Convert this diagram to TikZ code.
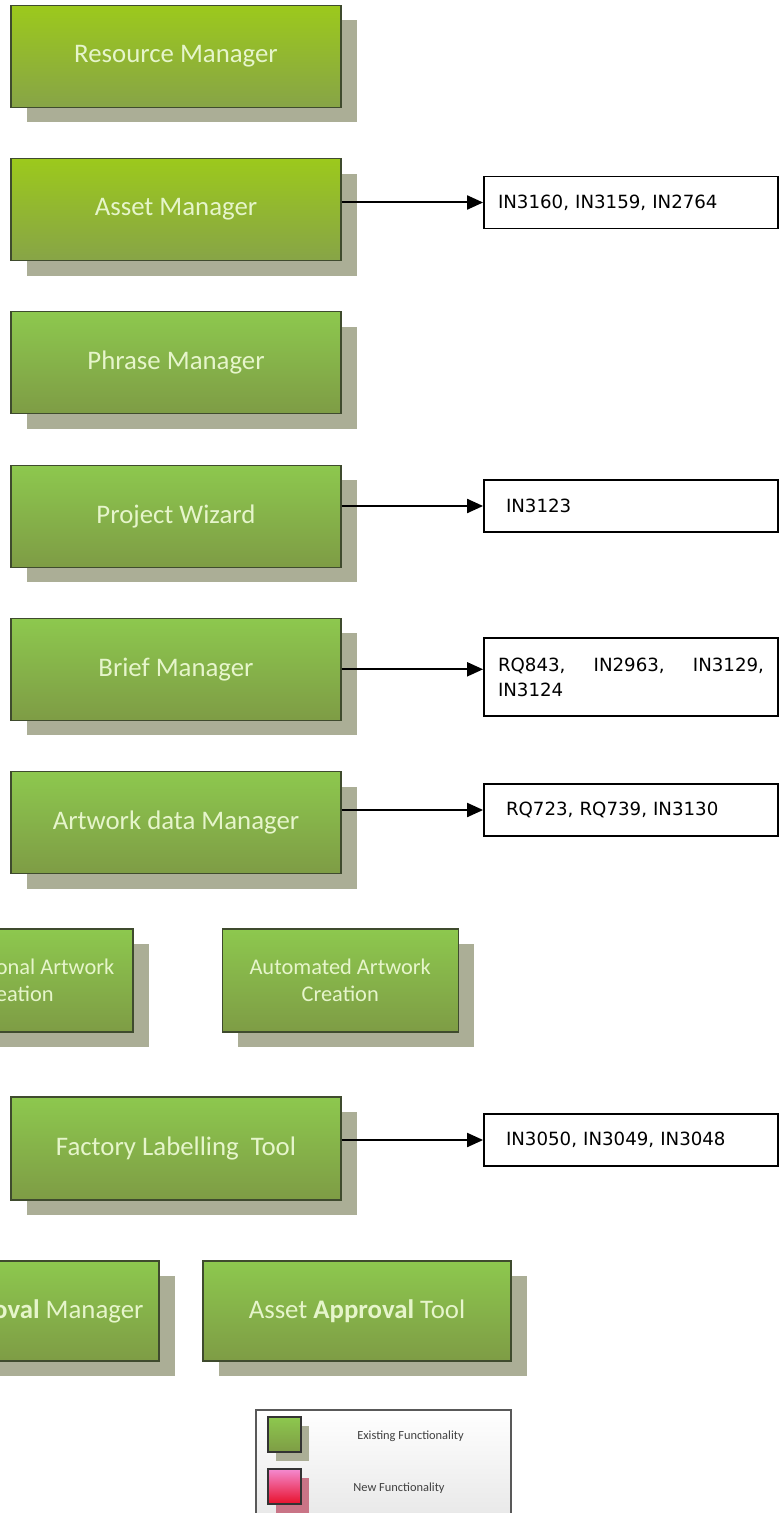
\documentclass[tikz,border=0pt]{standalone}
\usepackage{fontspec}
\setmainfont{Carlito}
\newfontfamily\notefont{DejaVu Sans}
\definecolor{GreenTop}{HTML}{8DC84E}
\definecolor{GreenBottom}{HTML}{7E9C45}
\definecolor{LimeTop}{HTML}{9CC91C}
\definecolor{LimeBottom}{HTML}{87A447}
\definecolor{BoxLine}{HTML}{3F4B2E}
\definecolor{ShadowGray}{HTML}{ABAE96}
\definecolor{LabelGreen}{HTML}{E6F5CB}
\definecolor{PinkTop}{HTML}{F48AD0}
\definecolor{PinkBottom}{HTML}{E8102A}
\definecolor{PinkShadow}{HTML}{C97486}
\usetikzlibrary{shadows,arrows.meta,positioning,calc}

\begin{document}
\begin{tikzpicture}
[x=0.5pt,y=-0.5pt,
   module/.style={rectangle,minimum width=165pt,minimum height=51pt,
   draw=BoxLine,line width=0.6pt,top color=GreenTop,bottom color=GreenBottom,
   text=LabelGreen,font=\fontsize{13.4}{16}\selectfont,align=center,
   general shadow={fill=ShadowGray,shadow xshift=8pt,shadow yshift=-7.5pt}},
   lime/.style={top color=LimeTop,bottom color=LimeBottom},
   small/.style={minimum width=118pt,font=\fontsize{11.2}{13.5}\selectfont},
   note/.style={rectangle,draw=black,line width=0.9pt,fill=white,
   minimum height=26pt,text width=125pt,inner xsep=11pt,align=left,
   font=\notefont\fontsize{9.1}{12.5}\selectfont},
   wide/.style={text width=133pt,inner xsep=7pt},
   link/.style={draw=black,line width=1pt,-{Triangle[length=8pt,width=7pt]}},
   swatch/.style={rectangle,minimum width=16.5pt,minimum height=17.5pt,
   draw=black!80,line width=0.6pt,inner sep=0pt},
   oldswatch/.style={swatch,top color=GreenTop,bottom color=GreenBottom,
   general shadow={fill=ShadowGray,shadow xshift=4pt,shadow yshift=-4.5pt}},
   newswatch/.style={swatch,top color=PinkTop,bottom color=PinkBottom,
   general shadow={fill=PinkShadow,shadow xshift=4pt,shadow yshift=-4.5pt}},
   lgtext/.style={text=black!75,font=\fontsize{6.2}{7}\selectfont},
   node distance=25pt]
\path[use as bounding box] (0,0) rectangle (779,1513);
\clip (0,0) rectangle (779,1513);

\node[module,lime] (res) at (176,56.5) {Resource Manager};
\node[module,lime,below=of res] (asset) {Asset Manager};
\node[module,below=of asset] (phrase) {Phrase Manager};
\node[module,below=of phrase] (wizard) {Project Wizard};
\node[module,below=of wizard] (brief) {Brief Manager};
\node[module,below=of brief] (artdata) {Artwork data Manager};

\node[module,small,minimum height=51.5pt] (manual) at (15,980.5) {Conventional Artwork\\Creation};
\node[module,small,minimum height=51.5pt,right=44pt of manual] (auto) {Automated Artwork\\Creation};

\node[module,minimum height=51.5pt] (factory) at (176,1148.5) {Factory Labelling\ \ Tool};

\node[module,minimum height=50pt] (artappr) at (-6,1311) {Artwork \textbf{Approval} Manager};
\node[module,minimum height=50pt,minimum width=154pt] (assetappr) at (357,1311) {Asset \textbf{Approval} Tool};

%% requirement notes
\node[note,wide] (an1) at (631,202.5) {IN3160, IN3159, IN2764};
\node[note] (an2) at (631,506) {IN3123};
\node[note,wide,align=justify,minimum height=39pt] (an3) at (631,677) {RQ843, IN2963, IN3129, IN3124};
\node[note] (an4) at (631,810) {RQ723, RQ739, IN3130};
\node[note] (an5) at (631,1140) {IN3050, IN3049, IN3048};

\draw[link] (asset.east |- an1.west) -- (an1.west);
\draw[link] (wizard.east |- an2.west) -- (an2.west);
\draw[link] (brief.east) -- (brief.east -| an3.west);
\draw[link] (artdata.east |- an4.west) -- (an4.west);
\draw[link] (factory.east |- an5.west) -- (an5.west);

%% legend
\node[rectangle,draw=black!65,line width=0.6pt,top color=white,bottom color=black!10,
   minimum width=127.5pt,minimum height=60pt] (legend) at (383.5,1470) {};
\node[oldswatch] (oldsw) at (284.5,1434.5) {};
\node[newswatch] (newsw) at (284.5,1486.5) {};
\node[lgtext] (oldlbl) at (410.5,1436) {Existing Functionality};
\node[lgtext] (newlbl) at (399,1488) {New Functionality};
\end{tikzpicture}
\end{document}
